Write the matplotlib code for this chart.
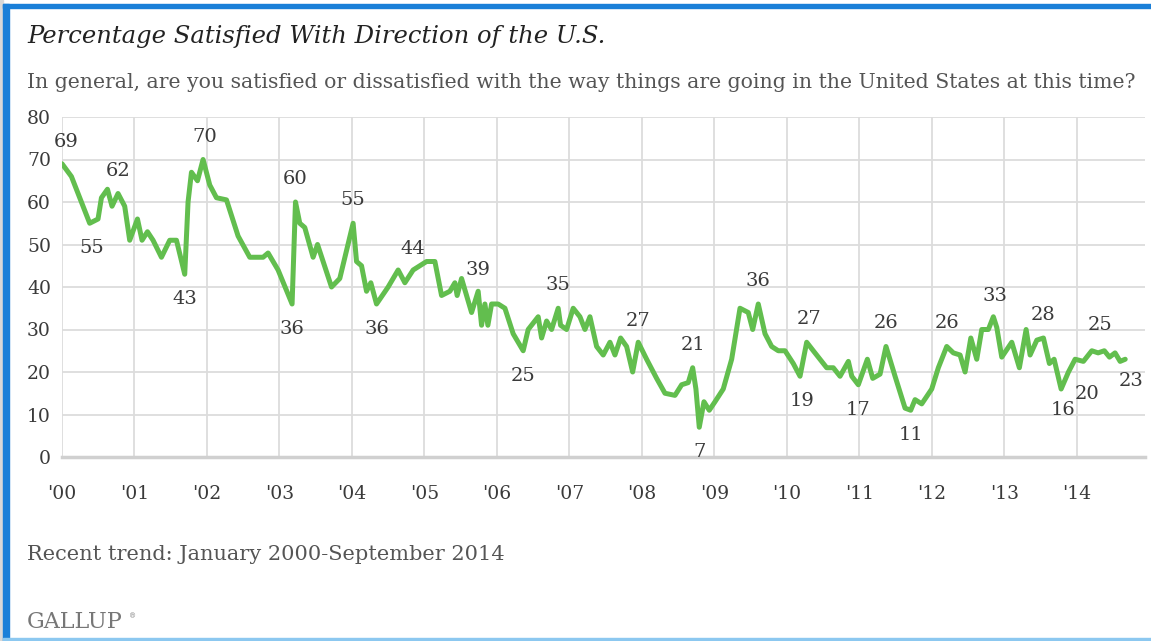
import numpy as np
import matplotlib.pyplot as plt
from matplotlib.patches import Rectangle

# Gallup: % satisfied with the way things are going in the U.S.
# dates as fractional years since Jan 2000
YEARS_IN = [
    0.000, 0.130, 0.244, 0.382, 0.497, 0.544, 0.627, 0.690, 0.773, 0.865,
    0.934, 1.041, 1.104, 1.179, 1.256, 1.372, 1.486, 1.579, 1.693, 1.739,
    1.786, 1.869, 1.946, 2.038, 2.131, 2.269, 2.429, 2.590, 2.774, 2.843,
    2.981, 3.174, 3.221, 3.280, 3.349, 3.464, 3.525, 3.718, 3.832, 4.016,
    4.063, 4.132, 4.201, 4.260, 4.339, 4.499, 4.637, 4.730, 4.844, 5.029,
    5.144, 5.236, 5.351, 5.420, 5.451, 5.512, 5.650, 5.741, 5.788, 5.834,
    5.875, 5.926, 6.017, 6.110, 6.224, 6.362, 6.431, 6.569, 6.616, 6.685,
    6.754, 6.845, 6.878, 6.961, 7.052, 7.145, 7.214, 7.283, 7.375, 7.466,
    7.559, 7.628, 7.706, 7.789, 7.872, 7.949, 8.065, 8.203, 8.318, 8.456,
    8.548, 8.639, 8.700, 8.745, 8.791, 8.856, 8.929, 9.008, 9.122, 9.238,
    9.353, 9.467, 9.528, 9.605, 9.698, 9.790, 9.881, 9.974, 10.088, 10.181,
    10.273, 10.364, 10.549, 10.640, 10.733, 10.848, 10.895, 10.985, 11.110, 11.184,
    11.285, 11.367, 11.492, 11.630, 11.708, 11.768, 11.860, 11.998, 12.089, 12.205,
    12.296, 12.389, 12.458, 12.537, 12.619, 12.688, 12.779, 12.848, 12.895, 12.964,
    13.102, 13.207, 13.300, 13.355, 13.448, 13.539, 13.621, 13.686, 13.783, 13.884,
    13.976, 14.090, 14.206, 14.293, 14.379, 14.450, 14.527, 14.597, 14.667,
]
SATISFIED = [
    69, 66, 61, 55, 56, 61, 63, 59, 62, 59,
    51, 56, 51, 53, 51, 47, 51, 51, 43, 60,
    67, 65, 70, 64, 61, 60.5, 52, 47, 47, 48,
    44, 36, 60, 55, 54, 47, 50, 40, 42, 55,
    46, 45, 39, 41, 36, 40, 44, 41, 44, 46,
    46, 38, 39, 41, 38, 42, 34, 39, 31, 36,
    31, 36, 36, 35, 29, 25, 30, 33, 28, 32,
    30, 35, 31, 30, 35, 33, 30, 33, 26, 24,
    27, 24, 28, 26, 20, 27, 23, 18.5, 15, 14.5,
    17, 17.5, 21, 16, 7, 13, 11, 13, 16, 23,
    35, 34, 30, 36, 29, 26, 25, 25, 22, 19,
    27, 25, 21, 21, 19, 22.5, 19, 17, 23, 18.5,
    19.5, 26, 19, 11.5, 11, 13.5, 12.5, 16, 21, 26,
    24.5, 24, 20, 28, 23, 30, 30, 33, 30.5, 23.5,
    27, 21, 30, 24, 27.5, 28, 22, 23, 16, 20,
    23, 22.5, 25, 24.5, 25, 23.5, 24.5, 22.5, 23,
]
dates = 2000 + np.array(YEARS_IN)
values = np.array(SATISFIED, dtype=float)

# labelled points: (date, dx px, dy px)
LABELED = [
    (2000.000, 4, 22), (2000.382, 2, -25), (2000.773, 0, 23), (2001.693, 0, -25),
    (2001.946, 2, 23), (2003.174, 0, -25), (2003.221, 0, 23), (2004.016, 0, 23),
    (2004.339, 0, -25), (2004.844, 0, 21), (2005.741, 0, 21), (2006.362, 0, -25),
    (2006.845, 0, 23), (2007.949, 0, 21), (2008.700, 0, 23), (2008.791, 0, -25),
    (2009.605, 0, 23), (2010.181, 2, -25), (2010.273, 2, 23), (2010.985, 0, -25),
    (2011.367, 0, 23), (2011.708, 0, -25), (2012.205, 0, 23), (2012.848, 2, 21),
    (2013.539, 0, 23), (2013.783, 2, -21), (2013.884, 19, -22), (2014.379, -4, 26),
    (2014.667, 6, -22),
]

TICK_YEARS = list(range(2000, 2015))
TICK_LABELS = ["'%02d" % (y % 100) for y in TICK_YEARS]

GREEN = "#62be4e"
TEXT = "#3a3a3a"
GRID = "#dcdcdc"
SERIF = ["DejaVu Serif"]

W, H = 1151, 641
fig = plt.figure(figsize=(W / 100, H / 100), dpi=100)
fig.patch.set_facecolor("white")

# frame around the graphic
fig.patches.append(Rectangle((0, 0), 3 / W, 1, transform=fig.transFigure,
                             color="#d8d8d8", zorder=0))
fig.patches.append(Rectangle((3 / W, 0), 6 / W, 1 - 4 / H, transform=fig.transFigure,
                             color="#1a7fd8", zorder=1))
fig.patches.append(Rectangle((3 / W, 1 - 8 / H), 1 - 3 / W, 4 / H, transform=fig.transFigure,
                             color="#1a7fd8", zorder=1))
fig.patches.append(Rectangle((3 / W, 0), 1 - 3 / W, 3 / H, transform=fig.transFigure,
                             color="#8cc8f0", zorder=1))

ax = fig.add_axes([62 / W, 1 - 457 / H, 1083 / W, 340 / H])
ax.plot(dates, values, color=GREEN, linewidth=3.6, solid_joinstyle="round",
        solid_capstyle="round", zorder=3)

for d, dx, dy in LABELED:
    i = int(np.argmin(np.abs(dates - d)))
    ax.annotate(f"{values[i]:.0f}", (dates[i], values[i]),
                xytext=(dx * 0.72, dy * 0.72), textcoords="offset points",
                ha="center", va="center", fontsize=14, color=TEXT,
                family=SERIF, zorder=4)

ax.set_xlim(2000, 2014.94)
ax.set_ylim(0, 80)
ax.set_yticks(range(0, 81, 10))
ax.set_yticklabels([str(v) for v in range(0, 81, 10)], family=SERIF,
                   fontsize=13.5, color=TEXT)
ax.set_xticks(TICK_YEARS)
ax.set_xticklabels(TICK_LABELS, family=SERIF, fontsize=13.5, color=TEXT)
ax.tick_params(axis="both", length=0)
ax.tick_params(axis="x", pad=20)
ax.tick_params(axis="y", pad=8)
ax.grid(True, color=GRID, linewidth=1.3)
ax.set_axisbelow(True)
for s in ["top", "right", "left"]:
    ax.spines[s].set_visible(False)
ax.spines["bottom"].set_color("#d0d0d0")
ax.spines["bottom"].set_linewidth(2.5)

fig.text(27 / W, 1 - 37 / H, "Percentage Satisfied With Direction of the U.S.",
         family=SERIF, style="italic", fontsize=17.5, color="#222222", va="center")
fig.text(27 / W, 1 - 82 / H,
         "In general, are you satisfied or dissatisfied with the way things are going in the United States at this time?",
         family=SERIF, fontsize=14.7, color="#555555", va="center")
fig.text(27 / W, 1 - 555 / H, "Recent trend: January 2000-September 2014",
         family=SERIF, fontsize=15, color="#555555", va="center")
fig.text(27 / W, 1 - 622 / H, "GALLUP", family=SERIF, fontsize=16,
         color="#777777", va="center")
fig.text(129 / W, 1 - 616 / H, "\u00ae", family=SERIF, fontsize=5,
         color="#777777", va="center")

fig.savefig("out.png", dpi=100, facecolor="white")
